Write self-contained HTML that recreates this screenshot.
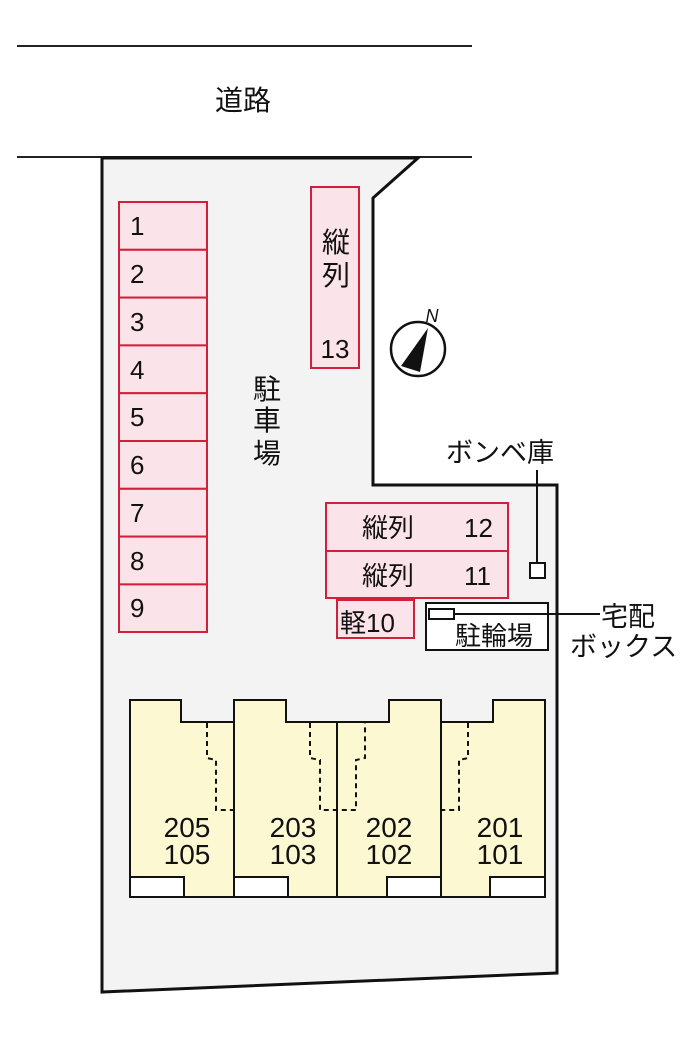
<!DOCTYPE html>
<html><head><meta charset="utf-8"><style>
html,body{margin:0;padding:0;background:#fff;}
svg{display:block;}
text{font-family:"Liberation Sans","Noto Sans CJK JP",sans-serif;fill:#111;}
</style></head><body>
<svg width="700" height="1050" viewBox="0 0 700 1050" xmlns="http://www.w3.org/2000/svg">
<line x1="17" y1="46" x2="472" y2="46" stroke="#222" stroke-width="2"/>
<line x1="17" y1="157" x2="472" y2="157" stroke="#222" stroke-width="2"/>
<text x="243" y="110" font-size="28" text-anchor="middle">道路</text>
<polygon points="102,158 418,158 373,198 373,485 557,485 557,973 102,992" fill="#f3f3f3" stroke="#111" stroke-width="3"/>
<g fill="#fbe3ea" stroke="#d0203c" stroke-width="2">
<rect x="119" y="202" width="88" height="47.8"/>
<rect x="119" y="249.8" width="88" height="47.8"/>
<rect x="119" y="297.6" width="88" height="47.8"/>
<rect x="119" y="345.4" width="88" height="47.8"/>
<rect x="119" y="393.2" width="88" height="47.8"/>
<rect x="119" y="441" width="88" height="47.8"/>
<rect x="119" y="488.8" width="88" height="47.8"/>
<rect x="119" y="536.6" width="88" height="47.8"/>
<rect x="119" y="584.4" width="88" height="47.6"/>
<rect x="311" y="187" width="48" height="181"/>
<rect x="326" y="503" width="182" height="48"/>
<rect x="326" y="551" width="182" height="47"/>
<rect x="337" y="600" width="77" height="38"/>
</g>
<circle cx="418" cy="349" r="27" fill="#fff" stroke="#111" stroke-width="2.5"/>
<polygon points="428,328 401,366 420,372" fill="#111"/>
<text x="432" y="322" font-size="18" font-style="italic" text-anchor="middle">N</text>
<line x1="537" y1="470" x2="537" y2="563" stroke="#111" stroke-width="2"/>
<rect x="530" y="563" width="15" height="15" fill="#fff" stroke="#111" stroke-width="2"/>
<rect x="426" y="603" width="122" height="47" fill="#fff" stroke="#111" stroke-width="2"/>
<rect x="429" y="609" width="25" height="10" fill="#fff" stroke="#111" stroke-width="2"/>
<line x1="454" y1="614" x2="600" y2="614" stroke="#111" stroke-width="2"/>
<g font-size="26">
<text x="130" y="235">1</text><text x="130" y="283">2</text><text x="130" y="331">3</text>
<text x="130" y="379">4</text><text x="130" y="426">5</text><text x="130" y="474">6</text>
<text x="130" y="522">7</text><text x="130" y="570">8</text><text x="130" y="617">9</text>
<text x="336" y="252" font-size="28" text-anchor="middle">縦</text>
<text x="336" y="285" font-size="28" text-anchor="middle">列</text>
<text x="335" y="358" text-anchor="middle">13</text>
<text x="362" y="537">縦列</text><text x="464" y="537">12</text>
<text x="362" y="585">縦列</text><text x="464" y="585">11</text>
<text x="340" y="632">軽10</text>
<text x="267" y="399" font-size="28" text-anchor="middle">駐</text>
<text x="267" y="430" font-size="28" text-anchor="middle">車</text>
<text x="267" y="463" font-size="28" text-anchor="middle">場</text>
<text x="500" y="462" font-size="27" text-anchor="middle">ボンベ庫</text>
<text x="455" y="645">駐輪場</text>
<text x="601" y="626" font-size="27">宅配</text>
<text x="570" y="656" font-size="27">ボックス</text>
</g>
<g fill="#fbf8d2" stroke="#111" stroke-width="2">
<polygon points="130,700 181,700 181,722 234,722 234,897 130,897"/>
<polygon points="234,700 286,700 286,722 337,722 337,897 234,897"/>
<polygon points="337,722 389,722 389,700 441,700 441,897 337,897"/>
<polygon points="441,722 493,722 493,700 545,700 545,897 441,897"/>
</g>
<g fill="#fff" stroke="#111" stroke-width="2">
<rect x="130" y="877" width="54" height="20"/>
<rect x="234" y="877" width="54" height="20"/>
<rect x="387" y="877" width="54" height="20"/>
<rect x="490" y="877" width="55" height="20"/>
</g>
<g fill="none" stroke="#111" stroke-width="2" stroke-dasharray="5,4">
<polyline points="207,723 207,758 216,760 216,810 234,810"/>
<polyline points="310,723 310,758 320,760 320,810 337,810 356,810 356,760 365,758 365,723"/>
<polyline points="468,723 468,758 459,760 459,810 441,810"/>
</g>
<g font-size="28" text-anchor="middle">
<text x="187" y="837">205</text><text x="187" y="864">105</text>
<text x="293" y="837">203</text><text x="293" y="864">103</text>
<text x="389" y="837">202</text><text x="389" y="864">102</text>
<text x="500" y="837">201</text><text x="500" y="864">101</text>
</g>
</svg>
</body></html>
